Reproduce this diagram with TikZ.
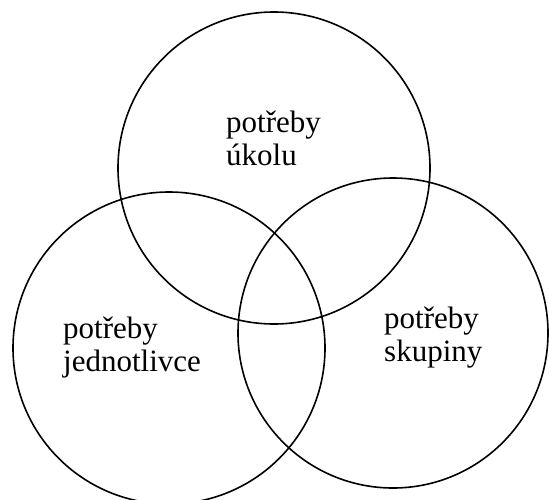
\documentclass[tikz,border=0pt]{standalone}
\usepackage{fontspec}
\setmainfont{Liberation Serif}
\begin{document}
\begin{tikzpicture}[x=1pt,y=-1pt,
  ring/.style={draw=black,line width=1.6pt},
  lbl/.style={anchor=base west,inner sep=0pt,font=\fontsize{31}{33}\selectfont}]
\useasboundingbox (0,0) rectangle (549,499);
\draw[ring] (274,168) circle[radius=156];
\draw[ring] (169,348) circle[radius=156];
\draw[ring] (393,333) circle[radius=155];
\node[lbl] (ta) at (226,132) {potřeby};
\node[lbl] (tb) at (226,165) {úkolu};
\node[lbl] (la) at (63,338) {potřeby};
\node[lbl] (lb) at (63,371) {jednotlivce};
\node[lbl] (ra) at (384,328) {potřeby};
\node[lbl] (rb) at (384,361) {skupiny};
\end{tikzpicture}
\end{document}
